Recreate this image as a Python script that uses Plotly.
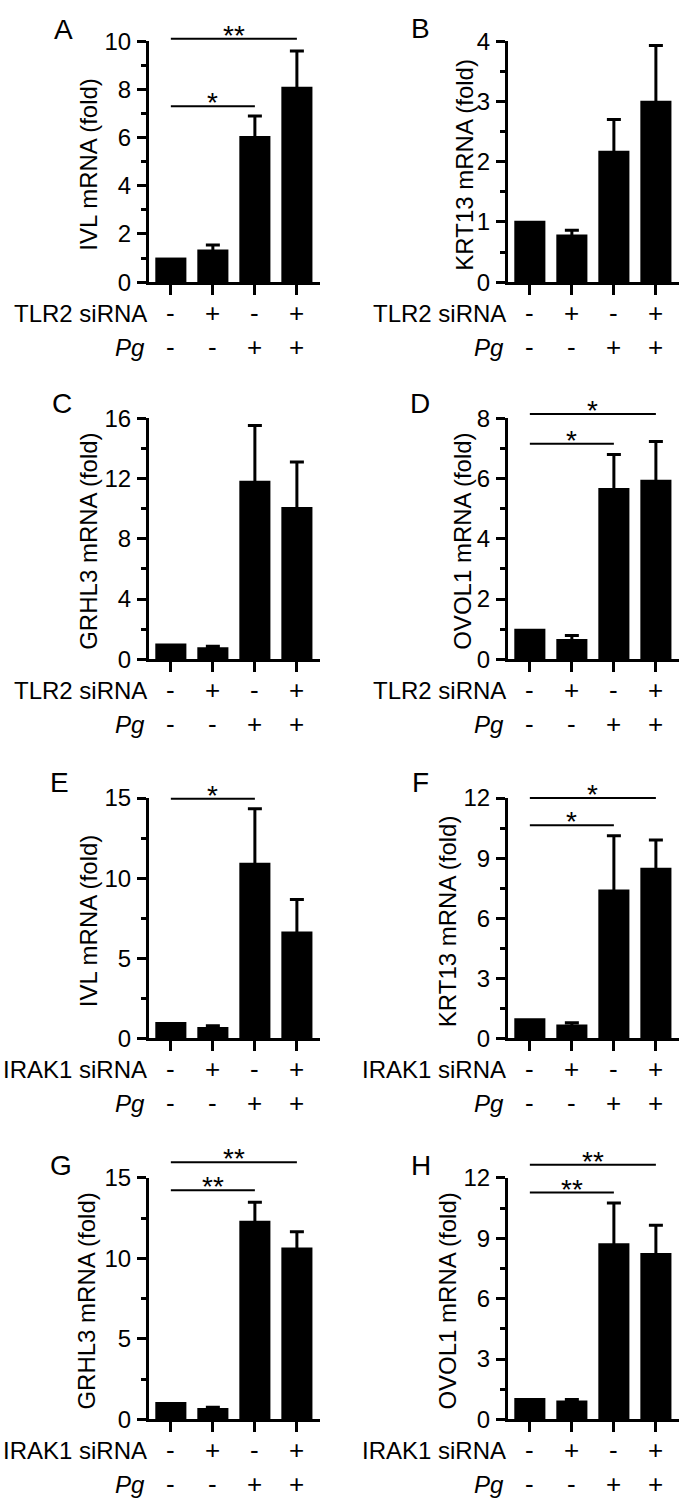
import plotly.graph_objects as go

# ---------------- data ----------------
categories = [0, 1, 2, 3]
sirna_signs = ["-", "+", "-", "+"]
pg_signs = ["-", "-", "+", "+"]

panel_letters = ["A", "B", "C", "D", "E", "F", "G", "H"]
ytitles = ["IVL mRNA (fold)", "KRT13 mRNA (fold)", "GRHL3 mRNA (fold)", "OVOL1 mRNA (fold)",
           "IVL mRNA (fold)", "KRT13 mRNA (fold)", "GRHL3 mRNA (fold)", "OVOL1 mRNA (fold)"]
sirna_labels = ["TLR2 siRNA"] * 4 + ["IRAK1 siRNA"] * 4

A_mean = [1.02, 1.35, 6.07, 8.11]
A_err = [0, 0.19, 0.82, 1.48]
B_mean = [1.02, 0.79, 2.18, 3.01]
B_err = [0, 0.07, 0.52, 0.92]
C_mean = [1.04, 0.80, 11.86, 10.12]
C_err = [0, 0.07, 3.66, 2.98]
D_mean = [1.01, 0.67, 5.69, 5.96]
D_err = [0, 0.12, 1.11, 1.27]
E_mean = [1.02, 0.71, 10.96, 6.67]
E_err = [0, 0.07, 3.37, 2.00]
F_mean = [1.01, 0.69, 7.43, 8.52]
F_err = [0, 0.09, 2.69, 1.39]
G_mean = [1.08, 0.71, 12.34, 10.67]
G_err = [0, 0.04, 1.14, 0.98]
H_mean = [1.06, 0.94, 8.75, 8.26]
H_err = [0, 0.05, 2.00, 1.38]

y_max = [10, 4, 16, 8, 15, 12, 15, 12]
y_dtick = [2, 1, 4, 2, 5, 3, 5, 3]

# significance brackets: (from category, to category, height, label)
A_sig = [(0, 3, 10.1, "**"), (0, 2, 7.3, "*")]
B_sig = []
C_sig = []
D_sig = [(0, 3, 8.14, "*"), (0, 2, 7.16, "*")]
E_sig = [(0, 2, 14.96, "*")]
F_sig = [(0, 3, 12.0, "*"), (0, 2, 10.64, "*")]
G_sig = [(0, 3, 15.96, "**"), (0, 2, 14.23, "**")]
H_sig = [(0, 3, 12.65, "**"), (0, 2, 11.27, "**")]

means = [A_mean, B_mean, C_mean, D_mean, E_mean, F_mean, G_mean, H_mean]
errs = [A_err, B_err, C_err, D_err, E_err, F_err, G_err, H_err]
sigs = [A_sig, B_sig, C_sig, D_sig, E_sig, F_sig, G_sig, H_sig]

# ---------------- layout geometry ----------------
W, H = 680, 1510
col_x = [(149, 320), (508, 679)]
row_y = [(27.7, 273), (411.7, 657), (798.3, 1043), (1185, 1431)]
title_off = [60, 43, 60, 45, 61, 61, 62, 60]
letter_pos = [(63, 16), (420, 15), (62, 397), (420, 397),
              (59, 783), (420, 783), (61, 1172), (421, 1172)]

FONT = "Liberation Sans, Arial, sans-serif"
TXT = 24
fig = go.Figure()
annotations = []
shapes = []

for k in range(8):
    r, c = divmod(k, 2)
    n = "" if k == 0 else str(k + 1)
    xa, ya = "x" + n, "y" + n
    x0, x1 = col_x[c]
    yt, yb = row_y[r]
    fig.add_trace(go.Bar(
        x=categories, y=means[k], width=0.74, marker=dict(color="black", line=dict(width=0)),
        xaxis=xa, yaxis=ya, showlegend=False, hoverinfo="y"))
    # error bars (SD) only where an error exists; lower half hidden inside the bar
    ex = [categories[i] for i in range(4) if errs[k][i] > 0]
    ey = [means[k][i] for i in range(4) if errs[k][i] > 0]
    ee = [errs[k][i] for i in range(4) if errs[k][i] > 0]
    fig.add_trace(go.Scatter(
        x=ex, y=ey, mode="markers", marker=dict(size=1, color="black", opacity=0),
        error_y=dict(type="data", array=ee, visible=True, color="black", thickness=3, width=7),
        xaxis=xa, yaxis=ya, showlegend=False, hoverinfo="skip", cliponaxis=False))
    lay_x = dict(domain=[x0 / W, x1 / W], range=[-0.52, 3.55], anchor=ya, showgrid=False,
                 zeroline=False, showline=True, linecolor="black", linewidth=3,
                 ticks="outside", ticklen=10, tickwidth=3, tickcolor="black",
                 tickvals=categories, showticklabels=False, fixedrange=True)
    lay_y = dict(domain=[1 - yb / H, 1 - yt / H], range=[0, y_max[k]], anchor=xa, showgrid=False,
                 zeroline=False, showline=True, linecolor="black", linewidth=3,
                 ticks="outside", ticklen=9, tickwidth=3, tickcolor="black",
                 dtick=y_dtick[k], tick0=0, tickfont=dict(family=FONT, size=TXT, color="black"),
                 ticklabelstandoff=1,
                 minor=dict(dtick=y_dtick[k] / 2, tick0=0, ticks="outside", ticklen=5,
                            tickwidth=3, tickcolor="black", showgrid=False),
                 fixedrange=True)
    fig.layout["xaxis" + n] = lay_x
    fig.layout["yaxis" + n] = lay_y

    annotations.append(dict(text=ytitles[k], xref=xa + " domain", yref=ya + " domain", x=0, y=0.5,
                            xshift=-title_off[k], yshift=-3, textangle=-90, showarrow=False,
                            xanchor="center", yanchor="middle",
                            font=dict(family=FONT, size=TXT, color="black")))
    annotations.append(dict(text=sirna_labels[k], xref=xa + " domain", yref=ya + " domain", x=0, y=0,
                            xshift=0, yshift=-31, showarrow=False, xanchor="right", yanchor="middle",
                            font=dict(family=FONT, size=TXT, color="black")))
    annotations.append(dict(text="<i>Pg</i>", xref=xa + " domain", yref=ya + " domain", x=0, y=0,
                            xshift=-2, yshift=-65, showarrow=False, xanchor="right", yanchor="middle",
                            font=dict(family=FONT, size=TXT, color="black")))
    for i, cat in enumerate(categories):
        annotations.append(dict(text=sirna_signs[i], xref=xa, yref=ya + " domain", x=cat, y=0,
                                yshift=-31, showarrow=False, xanchor="center", yanchor="middle",
                                font=dict(family=FONT, size=26, color="black")))
        annotations.append(dict(text=pg_signs[i], xref=xa, yref=ya + " domain", x=cat, y=0,
                                yshift=-65, showarrow=False, xanchor="center", yanchor="middle",
                                font=dict(family=FONT, size=26, color="black")))
    lx, ly = letter_pos[k]
    annotations.append(dict(text=panel_letters[k], xref="paper", yref="paper", x=lx / W, y=1 - ly / H,
                            showarrow=False, xanchor="center", yanchor="middle",
                            font=dict(family=FONT, size=28, color="black")))
    for (a, b, h, lab) in sigs[k]:
        shapes.append(dict(type="line", xref=xa, yref=ya + " domain", x0=categories[a], x1=categories[b],
                           y0=h / y_max[k], y1=h / y_max[k], line=dict(color="black", width=2)))
        annotations.append(dict(text=lab, xref=xa, yref=ya + " domain", x=(categories[a] + categories[b]) / 2,
                                y=h / y_max[k], yshift=-14, showarrow=False, xanchor="center", yanchor="bottom",
                                font=dict(family=FONT, size=28, color="black")))

fig.update_layout(width=W, height=H, margin=dict(l=0, r=0, t=0, b=0),
                  paper_bgcolor="white", plot_bgcolor="white",
                  annotations=annotations, shapes=shapes)
fig.write_html("out.html", config={"displayModeBar": False},
               post_script="document.body.style.margin='0';")
